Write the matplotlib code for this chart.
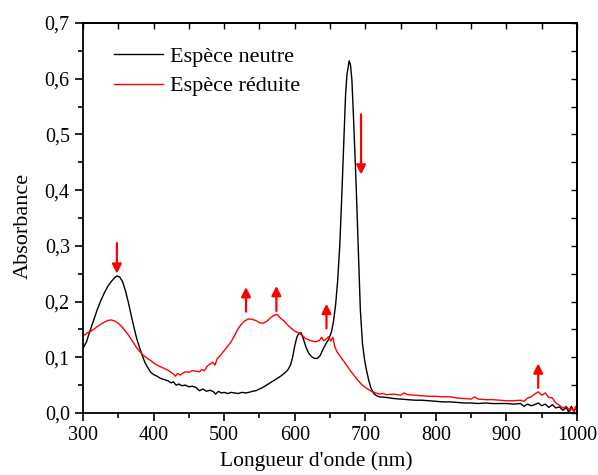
import numpy as np
import matplotlib
matplotlib.use("Agg")
import matplotlib.pyplot as plt
from matplotlib.ticker import MultipleLocator, FuncFormatter

# neutral species spectrum
wl_neutre = [300, 305, 310, 315, 320, 325, 330, 335, 340, 345, 348, 352, 356, 360, 364, 368,
             372, 376, 380, 384, 388, 392, 396, 400, 405, 410, 415, 420, 425, 428, 432, 436,
             440, 445, 450, 455, 460, 465, 470, 475, 480, 485, 488, 492, 496, 500, 505, 510,
             515, 520, 525, 530, 535, 540, 545, 550, 555, 560, 565, 570, 575, 580, 585, 590,
             594, 597, 600, 603, 606, 609, 612, 616, 620, 624, 628, 632, 636, 640, 644, 648,
             652, 655, 658, 661, 664, 667, 670, 672, 674, 676, 677, 679, 681, 683, 685, 687,
             690, 693, 696, 699, 702, 705, 708, 712, 716, 720, 730, 740, 750, 760, 770, 780,
             790, 800, 810, 820, 830, 840, 850, 860, 870, 880, 890, 900, 910, 920, 925, 930,
             935, 940, 945, 950, 955, 960, 965, 970, 975, 980, 985, 988, 992, 995, 1000]
abs_neutre = [0.116, 0.128, 0.148, 0.166, 0.185, 0.201, 0.215, 0.227, 0.236, 0.243, 0.246,
              0.244, 0.236, 0.220, 0.200, 0.177, 0.155, 0.134, 0.118, 0.103, 0.090, 0.081,
              0.073, 0.069, 0.066, 0.062, 0.060, 0.058, 0.054, 0.056, 0.050, 0.052, 0.049,
              0.050, 0.047, 0.048, 0.046, 0.040, 0.043, 0.039, 0.041, 0.038, 0.034, 0.039,
              0.036, 0.037, 0.035, 0.037, 0.036, 0.035, 0.037, 0.036, 0.037, 0.039, 0.040,
              0.043, 0.046, 0.050, 0.054, 0.058, 0.062, 0.066, 0.071, 0.077, 0.086, 0.100,
              0.120, 0.136, 0.143, 0.144, 0.134, 0.118, 0.107, 0.101, 0.098, 0.098, 0.103,
              0.114, 0.124, 0.132, 0.145, 0.165, 0.195, 0.240, 0.305, 0.400, 0.500, 0.570,
              0.608, 0.622, 0.632, 0.625, 0.598, 0.540, 0.475, 0.410, 0.300, 0.185, 0.125,
              0.095, 0.075, 0.058, 0.045, 0.035, 0.031, 0.029, 0.028, 0.026, 0.025, 0.024,
              0.023, 0.023, 0.022, 0.021, 0.020, 0.020, 0.019, 0.018, 0.018, 0.017, 0.018,
              0.017, 0.017, 0.017, 0.016, 0.017, 0.012, 0.016, 0.013, 0.015, 0.018, 0.013,
              0.016, 0.010, 0.015, 0.009, 0.011, 0.005, 0.010, 0.002, 0.012, 0.004, 0.010]

# reduced species spectrum
wl_reduite = [300, 303, 306, 310, 315, 320, 325, 330, 335, 340, 345, 350, 355, 360, 365, 370,
              375, 380, 385, 390, 395, 400, 405, 410, 415, 420, 425, 428, 431, 434, 438, 442,
              446, 450, 455, 460, 465, 468, 472, 476, 480, 484, 487, 490, 495, 500, 505, 510,
              515, 520, 525, 530, 535, 540, 545, 550, 555, 560, 565, 570, 575, 580, 585, 590,
              595, 600, 605, 610, 615, 620, 625, 630, 635, 638, 641, 645, 648, 651, 654, 657,
              660, 665, 670, 675, 680, 685, 690, 695, 700, 705, 710, 715, 720, 725, 730, 740,
              750, 755, 760, 770, 780, 790, 800, 810, 820, 830, 840, 850, 855, 860, 870, 880,
              890, 900, 910, 920, 925, 930, 935, 940, 945, 950, 955, 960, 965, 970, 975, 980,
              985, 990, 993, 996, 998, 1000]
abs_reduite = [0.142, 0.140, 0.144, 0.146, 0.150, 0.155, 0.159, 0.163, 0.166, 0.167, 0.165,
               0.161, 0.155, 0.147, 0.139, 0.129, 0.119, 0.111, 0.104, 0.099, 0.095, 0.090,
               0.086, 0.083, 0.080, 0.077, 0.073, 0.070, 0.066, 0.071, 0.068, 0.072, 0.074,
               0.073, 0.076, 0.075, 0.074, 0.078, 0.076, 0.084, 0.088, 0.091, 0.086, 0.097,
               0.104, 0.112, 0.120, 0.128, 0.140, 0.152, 0.160, 0.166, 0.169, 0.168, 0.166,
               0.162, 0.161, 0.164, 0.170, 0.175, 0.177, 0.170, 0.165, 0.158, 0.152, 0.147,
               0.144, 0.140, 0.134, 0.131, 0.129, 0.128, 0.130, 0.136, 0.130, 0.133, 0.137,
               0.129, 0.136, 0.118, 0.110, 0.101, 0.092, 0.083, 0.074, 0.066, 0.058, 0.051,
               0.046, 0.042, 0.038, 0.036, 0.034, 0.035, 0.033, 0.034, 0.032, 0.036, 0.033,
               0.032, 0.031, 0.030, 0.030, 0.029, 0.029, 0.027, 0.026, 0.025, 0.029, 0.025,
               0.024, 0.024, 0.023, 0.022, 0.022, 0.023, 0.021, 0.027, 0.029, 0.034, 0.038,
               0.032, 0.036, 0.028, 0.027, 0.018, 0.014, 0.009, 0.012, 0.003, 0.010, 0.000,
               0.012, 0.006]

# arrows: (wavelength, tail, tip)
arrows = [(348, 0.305, 0.250),
          (531, 0.182, 0.226),
          (574, 0.183, 0.228),
          (645, 0.152, 0.196),
          (694, 0.536, 0.428),
          (945, 0.045, 0.089)]

plt.rcParams['font.family'] = ['Liberation Serif', 'DejaVu Serif']

fig = plt.figure(figsize=(5.98, 4.75), dpi=100)
ax = fig.add_axes([0.1388, 0.1305, 0.8261, 0.8211])

ax.plot(wl_neutre, abs_neutre, color='black', lw=1.0, label='Espèce neutre')
ax.plot(wl_reduite, abs_reduite, color='red', lw=1.0, label='Espèce réduite')

for x, y0, y1 in arrows:
    ax.annotate('', xy=(x, y1), xytext=(x, y0),
                arrowprops=dict(arrowstyle='-|>', color='red', lw=1.6,
                                mutation_scale=14, shrinkA=0, shrinkB=0))

ax.set_xlim(300, 1000)
ax.set_ylim(0, 0.7)
ax.xaxis.set_major_locator(MultipleLocator(100))
ax.xaxis.set_minor_locator(MultipleLocator(50))
ax.yaxis.set_major_locator(MultipleLocator(0.1))
ax.yaxis.set_minor_locator(MultipleLocator(0.05))
ax.yaxis.set_major_formatter(FuncFormatter(lambda v, p: f"{v:.1f}".replace('.', ',')))

ax.tick_params(which='both', direction='out', width=1.2, labelsize=14.5, top=False, right=False)
ax.tick_params(which='major', length=6)
ax.tick_params(which='minor', length=3.5)

# inward ticks on top and right
top = ax.secondary_xaxis('top')
top.xaxis.set_major_locator(MultipleLocator(50))
top.tick_params(direction='in', length=4, width=1.0, labeltop=False)
right = ax.secondary_yaxis('right')
right.yaxis.set_major_locator(MultipleLocator(0.05))
right.tick_params(direction='in', length=4, width=1.0, labelright=False)

for sp in list(ax.spines.values()) + [top.spines['top'], right.spines['right']]:
    sp.set_linewidth(1.3)

ax.set_xlabel("Longueur d'onde (nm)", fontsize=15.5)
ax.xaxis.set_label_coords(0.472, -0.097)
ax.set_ylabel("Absorbance", fontsize=16)
ax.yaxis.set_label_coords(-0.101, 0.479)

ax.legend(loc='upper left', bbox_to_anchor=(0.063, 0.94), frameon=False, fontsize=16,
          handlelength=2.2, handletextpad=0.3, labelspacing=0.4, borderpad=0, borderaxespad=0)

fig.savefig('out.png', dpi=100)
